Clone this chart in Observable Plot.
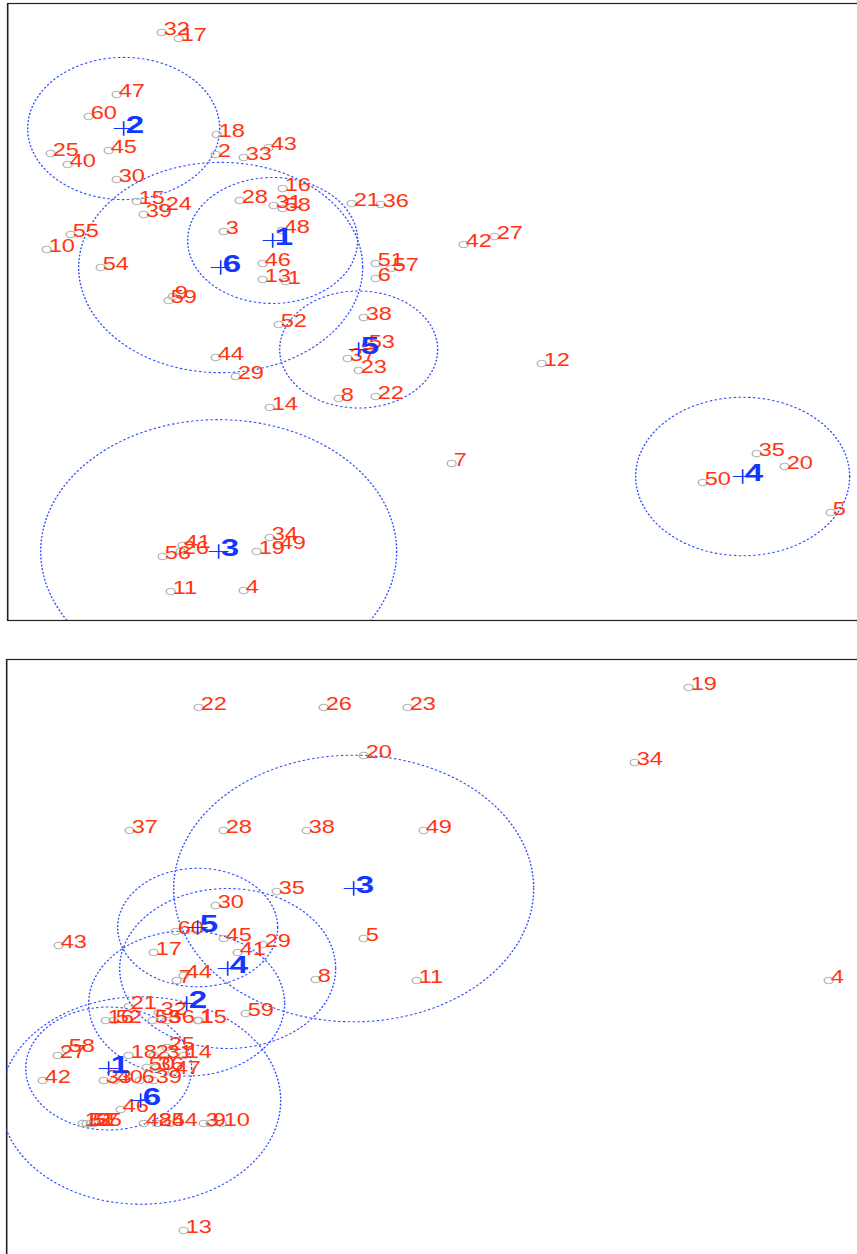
<!DOCTYPE html>
<html>
<head>
<meta charset="utf-8">
<script src="https://cdn.jsdelivr.net/npm/d3@7"></script>
<script src="https://cdn.jsdelivr.net/npm/@observablehq/plot@0.6"></script>
<style>
  html, body { margin: 0; padding: 0; background: #fff; overflow: hidden; }
  .panel { position: absolute; left: 0; width: 857px; overflow: hidden; }
  #top { top: 0; height: 622px; }
  #bottom { top: 656px; height: 598px; }
  .panel svg { transform: scaleX(1.35); transform-origin: 0 0; max-width: none !important; }
</style>
</head>
<body>
<div id="top" class="panel"></div>
<div id="bottom" class="panel"></div>
<script>
const topIds = [32,17,47,60,18,45,25,40,2,33,43,30,16,15,24,39,28,21,36,31,58,55,3,48,10,51,57,6,54,46,13,1,9,59,52,38,53,37,23,44,29,8,22,14,41,56,26,34,19,49,11,4,42,27,12,7,35,20,50,5];
const topX = [161,178,116,88,216,108,50,67,215,243,268,116,282,136,163,143,239,351,380,273,282,70,223,281,46,375,390,375,100,262,262,285,172,168,278,363,366,347,358,215,235,338,375,269,182,162,180,269,256,277,170,243,463,494,541,451,756,784,702,830];
const topY = [32,38,94,116,134,150,153,164,154,157,147,179,188,201,207,214,200,203,204,205,208,234,231,230,249,263,268,278,267,263,279,281,296,300,324,317,345,358,370,357,376,398,396,407,545,556,551,537,551,546,591,590,244,236,363,463,453,466,482,512];

// Top panel cluster centres and spanning radii (horizontal)
const topClusters = [1,2,3,4,5,6];
const topCX = [272,123,218,742,358,220];
const topCY = [240,128,551,476,349,267];
const topR  = [85,96,178,107,79,142];

// ---------- Bottom panel ----------
const botIds = [22,26,23,19,34,20,37,28,38,49,35,30,60,45,5,43,29,41,17,7,44,8,11,4,21,32,59,
                16,52,53,56,1,15,25,58,27,42,18,2,31,14,50,36,47,33,40,6,39,46,12,51,57,55,48,24,54,3,9,10,13];
const botX = [198,323,407,688,634,363,129,223,306,423,276,215,175,223,363,58,262,237,153,176,183,315,416,828,128,158,245,
              105,113,152,166,197,198,166,66,57,42,128,153,164,183,146,155,172,103,114,139,153,120,82,86,90,93,143,156,169,203,210,221,183];
const botY = [707,707,707,687,762,755,830,830,830,830,891,905,931,938,938,945,944,952,952,980,975,979,980,980,1006,1012,1013,
              1020,1020,1020,1020,1020,1020,1047,1049,1055,1080,1055,1055,1055,1055,1067,1067,1071,1080,1080,1080,1080,1109,1123,1123,1123,1123,1123,1123,1123,1123,1123,1123,1230];

const botClusters = [1,2,3,4,5,6];
const botCX = [108,186,353,227,197,140];
const botCY = [1068,1003,888,968,927,1100];
const botR  = [83,98,180,108,80,140];

const STRETCH = 1.35; // horizontal stretch of the whole picture

const RED = "#ff3512";
const BLUE = "#1238ff";
const ELL = "#3050ff";
const FONT = "'Liberation Sans', Arial, Helvetica, sans-serif";

function circles(ids, cx, cy, r) {
  const out = [];
  ids.forEach((c, i) => {
    for (let a = 0; a <= 360; a += 2) {
      const t = a * Math.PI / 180;
      out.push({c, x: cx[i] + r[i] * Math.cos(t), y: cy[i] + (r[i] / STRETCH) * Math.sin(t)});
    }
  });
  return out;
}

function panel({ids, xs, ys, cl, cx, cy, cr, height, yTop, yBottom, xLeft, marginTop, marginBottom}) {
  const pts = ids.map((id, i) => ({id: String(id), x: xs[i], y: ys[i]}));
  const cents = cl.map((c, i) => ({id: String(c), x: cx[i], y: cy[i]}));
  const xRight = 870;
  const width = xRight / STRETCH;
  return Plot.plot({
    width, height,
    marginTop, marginLeft: xLeft / STRETCH, marginRight: 0, marginBottom,
    x: {domain: [xLeft, xRight], axis: null},
    y: {domain: [yBottom, yTop], axis: null},
    style: {background: "white", fontFamily: FONT, maxWidth: "none"},
    marks: [
      Plot.frame({stroke: "#222", strokeWidth: 1.2}),
      Plot.line(circles(cl, cx, cy, cr), {x: "x", y: "y", z: "c", stroke: ELL, strokeWidth: 1.1, strokeDasharray: "1,2.6", clip: true}),
      Plot.dot(pts, {x: "x", y: "y", r: 3.3, stroke: "#b5b5b5", strokeWidth: 1.1, fill: "none"}),
      Plot.text(pts, {x: "x", y: "y", text: "id", textAnchor: "start", dx: 1.5, dy: -3.5, fill: RED, fontSize: 17.5, fontFamily: FONT}),
      Plot.dot(cents, {x: "x", y: "y", symbol: "plus", r: 4.8, stroke: BLUE, strokeWidth: 1.2}),
      Plot.text(cents, {x: "x", y: "y", text: "id", textAnchor: "start", dx: 1.5, dy: -3.5, fill: BLUE, fontSize: 24.5, fontWeight: "bold", fontFamily: FONT})
    ]
  });
}

document.getElementById("top").append(panel({
  ids: topIds, xs: topX, ys: topY, cl: topClusters, cx: topCX, cy: topCY, cr: topR,
  height: 622, yTop: 3, yBottom: 620, xLeft: 7, marginTop: 3, marginBottom: 2
}));

document.getElementById("bottom").append(panel({
  ids: botIds, xs: botX, ys: botY, cl: botClusters, cx: botCX, cy: botCY, cr: botR,
  height: 612, yTop: 659, yBottom: 1266, xLeft: 6, marginTop: 3, marginBottom: 2
}));
</script>
</body>
</html>
